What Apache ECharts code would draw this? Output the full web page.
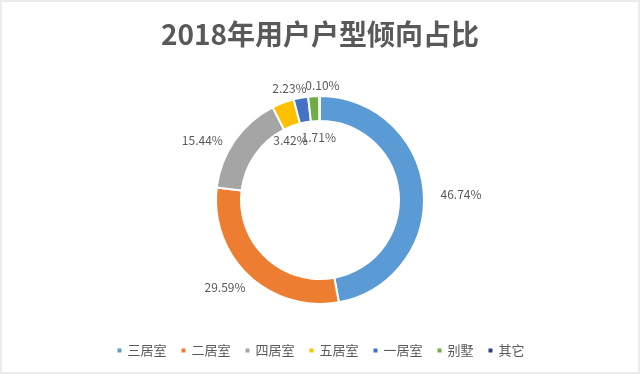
<!DOCTYPE html>
<html>
<head>
<meta charset="utf-8">
<script src="https://cdn.jsdelivr.net/npm/echarts@6/dist/echarts.min.js"></script>
<style>
html,body{margin:0;padding:0;background:#fff;}
#chart{width:640px;height:374px;}
</style>
</head>
<body>
<div id="chart"></div>
<script>
const titleText = '2018年用户户型倾向占比';
const categories = ['三居室', '二居室', '四居室', '五居室', '一居室', '别墅', '其它'];
const values = [46.74, 29.59, 15.44, 3.42, 2.23, 1.71, 0.10];
const colors = ['#5B9BD5', '#ED7D31', '#A5A5A5', '#FFC000', '#4472C4', '#70AD47', '#264478'];
// label nudges (dx, dy) relative to default outside placement
const labelNudge = [[0, 5], [10, 3], [3, 7], [34, 49], [13, 2], [28, 53], [25, 1]];

const chart = echarts.init(document.getElementById('chart'), null, {renderer: 'canvas'});
const FONT = '"Noto Sans CJK SC", "Noto Sans", sans-serif';
chart.setOption({
  backgroundColor: '#ffffff',
  animation: false,
  color: colors,
  title: {
    text: titleText,
    left: 'center',
    top: 20,
    padding: 0,
    textStyle: {fontFamily: FONT, fontSize: 28, fontWeight: 'bold', color: '#595959'}
  },
  legend: {
    data: categories,
    left: 'center',
    top: 344,
    padding: 0,
    icon: 'rect',
    itemWidth: 6,
    itemHeight: 6,
    itemGap: 13,
    textStyle: {fontFamily: FONT, fontSize: 13, color: '#595959'}
  },
  graphic: [{
    type: 'rect',
    shape: {x: 1, y: 1, width: 638, height: 372},
    style: {fill: 'none', stroke: '#ebebeb', lineWidth: 2},
    silent: true
  }],
  series: [{
    type: 'pie',
    center: [320, 200],
    radius: [79, 104],
    startAngle: 90,
    clockwise: true,
    avoidLabelOverlap: false,
    itemStyle: {borderColor: '#ffffff', borderWidth: 2},
    label: {
      show: true,
      position: 'outside',
      fontFamily: FONT,
      fontSize: 12,
      color: '#595959',
      formatter: p => p.value.toFixed(2) + '%'
    },
    labelLine: {show: false, length: 12, length2: 0},
    labelLayout: p => ({dx: labelNudge[p.dataIndex][0], dy: labelNudge[p.dataIndex][1]}),
    emphasis: {disabled: true},
    data: categories.map((c, i) => ({name: c, value: values[i]}))
  }]
});
</script>
</body>
</html>
